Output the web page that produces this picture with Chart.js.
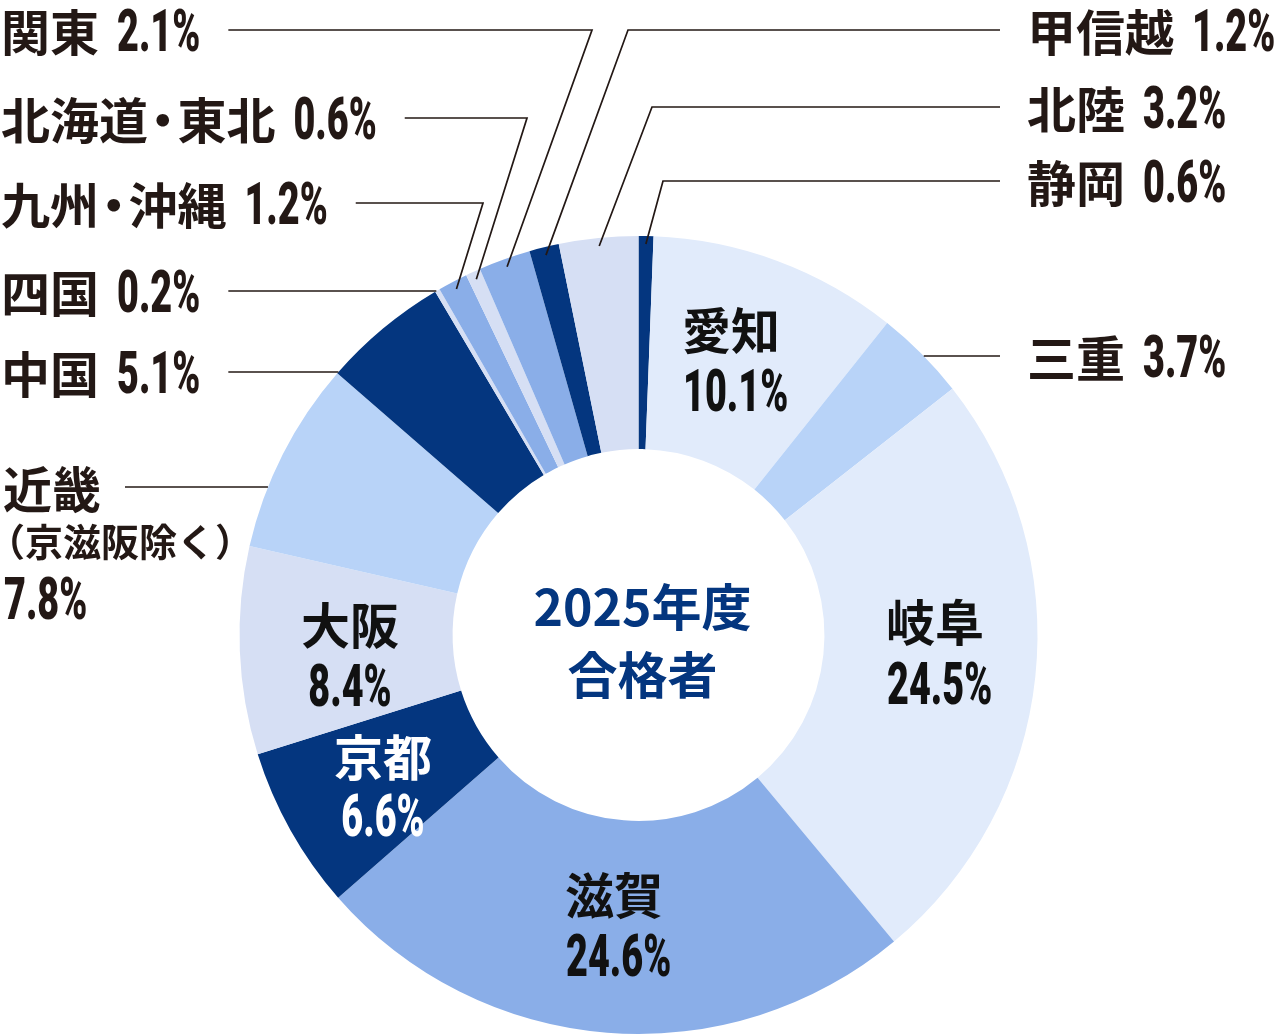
<!DOCTYPE html>
<html><head><meta charset="utf-8">
<script src="https://cdn.jsdelivr.net/npm/chart.js@4.4.1/dist/chart.umd.min.js"></script>
<style>html,body{margin:0;padding:0;background:#fff}canvas{display:block}</style>
</head><body>
<canvas id="c" width="1276" height="1036"></canvas>
<script>
// 2025年度 合格者 出身地域別の割合(%)
const regions=['静岡','愛知','三重','岐阜','滋賀','京都','大阪','近畿','中国','四国','九州・沖縄','北海道・東北','関東','甲信越','北陸'];
const shares=[0.6,10.1,3.7,24.5,24.6,6.6,8.4,7.8,5.1,0.2,1.2,0.6,2.1,1.2,3.2];
const centerTitle=['2025年度','合格者'];
const kinkiNote='（京滋阪除く）';

const NAVY='#04367f',MID='#8aaee8',LIGHT='#b8d3f8',PALE='#e1ebfb',GRAY='#d6dff4';
const segColors=[NAVY,PALE,LIGHT,PALE,MID,NAVY,GRAY,LIGHT,NAVY,GRAY,MID,GRAY,MID,NAVY,GRAY];
const INK='#231815';

// ラベル配置(データではなくレイアウト) x=左端
const inside={1:{x:683,y:[328,390]},3:{x:887,y:[620,683]},4:{x:566,y:[893,955]},5:{x:336,y:[755,815],color:'#fff',center:383},6:{x:304,y:[623,685],center:350}};
const outsideL={12:{y:30,elbow:592},11:{y:118,elbow:527},10:{y:203,elbow:483},9:{y:291},8:{y:372}};
const outsideR={13:{y:30,elbow:628},14:{y:107,elbow:652},0:{y:181,elbow:663},2:{y:356}};

const JP="'Noto Sans CJK JP'";
const JSIZE=49;
const SX=0.63; // 数字は縦長書体っぽく横を詰める
const GAP=18;

function pctText(i){return shares[i].toFixed(1)+'%';}
function numWidth(ctx,t){ctx.font='900 60px Roboto';return ctx.measureText(t).width*SX;}
function drawNum(ctx,t,x,cy,color){
  ctx.save();ctx.font='900 60px Roboto';ctx.fillStyle=color;ctx.textBaseline='alphabetic';ctx.textAlign='left';
  ctx.translate(x,cy+21);ctx.scale(SX,1);ctx.fillText(t,0,0);ctx.restore();
}
// 「・」は詰め気味に組む
function jpWidth(ctx,t,size,weight){
  size=size||JSIZE;ctx.font=(weight||'bold')+' '+size+'px '+JP;
  const parts=t.split('・');let w=0;
  parts.forEach((p,k)=>{w+=ctx.measureText(p).width;if(k<parts.length-1)w+=size*0.6;});
  return w;
}
function drawJp(ctx,t,x,cy,color,size,weight){
  size=size||JSIZE;
  ctx.save();ctx.font=(weight||'bold')+' '+size+'px '+JP;ctx.fillStyle=color;ctx.textBaseline='middle';ctx.textAlign='left';
  const parts=t.split('・');let px=x;
  parts.forEach((p,k)=>{
    ctx.fillText(p,px,cy+2);px+=ctx.measureText(p).width;
    if(k<parts.length-1){ctx.fillText('・',px+size*0.3-size/2,cy+2);px+=size*0.6;}
  });
  ctx.restore();
}
// 名前+数値を一行で、左端xから。右端を返す
function drawInline(ctx,i,x,cy){
  const n=regions[i],p=pctText(i);
  drawJp(ctx,n,x,cy,INK);
  const nx=x+jpWidth(ctx,n)+GAP;
  drawNum(ctx,p,nx,cy,INK);
  return nx+numWidth(ctx,p);
}

const labelPlugin={
  id:'labels',
  afterDraw(chart){
    const ctx=chart.ctx, arcs=chart.getDatasetMeta(0).data;
    const a0=arcs[0], cx=a0.x, cy=a0.y, R=a0.outerRadius;
    const mid=i=>(arcs[i].startAngle+arcs[i].endAngle)/2;
    const ringX=(y,side)=>cx+side*Math.sqrt(R*R-(y-cy)*(y-cy));
    ctx.save();
    ctx.strokeStyle=INK;ctx.lineWidth=1.7;
    function leader(sx,y,elbow,i,side){
      ctx.beginPath();ctx.moveTo(sx,y);
      if(elbow!=null){
        const a=mid(i),r=R-8;
        ctx.lineTo(elbow,y);ctx.lineTo(cx+r*Math.cos(a),cy+r*Math.sin(a));
      }else ctx.lineTo(ringX(y,side),y);
      ctx.stroke();
    }
    // 左側
    Object.keys(outsideL).forEach(k=>{
      const i=+k,o=outsideL[k];
      const end=drawInline(ctx,i,1,o.y);
      leader(end+28,o.y,o.elbow,i,-1);
    });
    // 近畿(3行)
    drawJp(ctx,regions[7],3,487,INK);
    drawJp(ctx,kinkiNote,-13,540,INK,38,'600');
    drawNum(ctx,pctText(7),4,598,INK);
    leader(3+jpWidth(ctx,regions[7])+24,487,null,7,-1);
    // 右側
    Object.keys(outsideR).forEach(k=>{
      const i=+k,o=outsideR[k];
      drawInline(ctx,i,1027,o.y);
      leader(1000,o.y,o.elbow,i,1);
    });
    // 内側
    Object.keys(inside).forEach(k=>{
      const i=+k,o=inside[k],col=o.color||'#111';
      const n=regions[i],p=pctText(i);
      if(o.center){
        drawJp(ctx,n,o.center-jpWidth(ctx,n)/2,o.y[0],col);
        drawNum(ctx,p,o.center-numWidth(ctx,p)/2,o.y[1],col);
      }else{
        drawJp(ctx,n,o.x-1,o.y[0],col);
        drawNum(ctx,p,o.x,o.y[1],col);
      }
    });
    // 中央
    ctx.font='bold 50px '+JP;ctx.fillStyle=NAVY;ctx.textAlign='center';ctx.textBaseline='middle';
    ctx.fillText(centerTitle[0],cx+4,cy-28);
    ctx.fillText(centerTitle[1],cx+4,cy+40);
    ctx.restore();
  }
};

new Chart(document.getElementById('c'),{
  type:'doughnut',
  data:{labels:regions,datasets:[{data:shares,backgroundColor:segColors,borderWidth:0}]},
  options:{responsive:false,animation:false,cutout:'46.6%',
    layout:{padding:{left:239,right:238,top:236,bottom:2}},
    plugins:{legend:{display:false},tooltip:{enabled:false}}},
  plugins:[labelPlugin]
});
</script>
</body></html>
